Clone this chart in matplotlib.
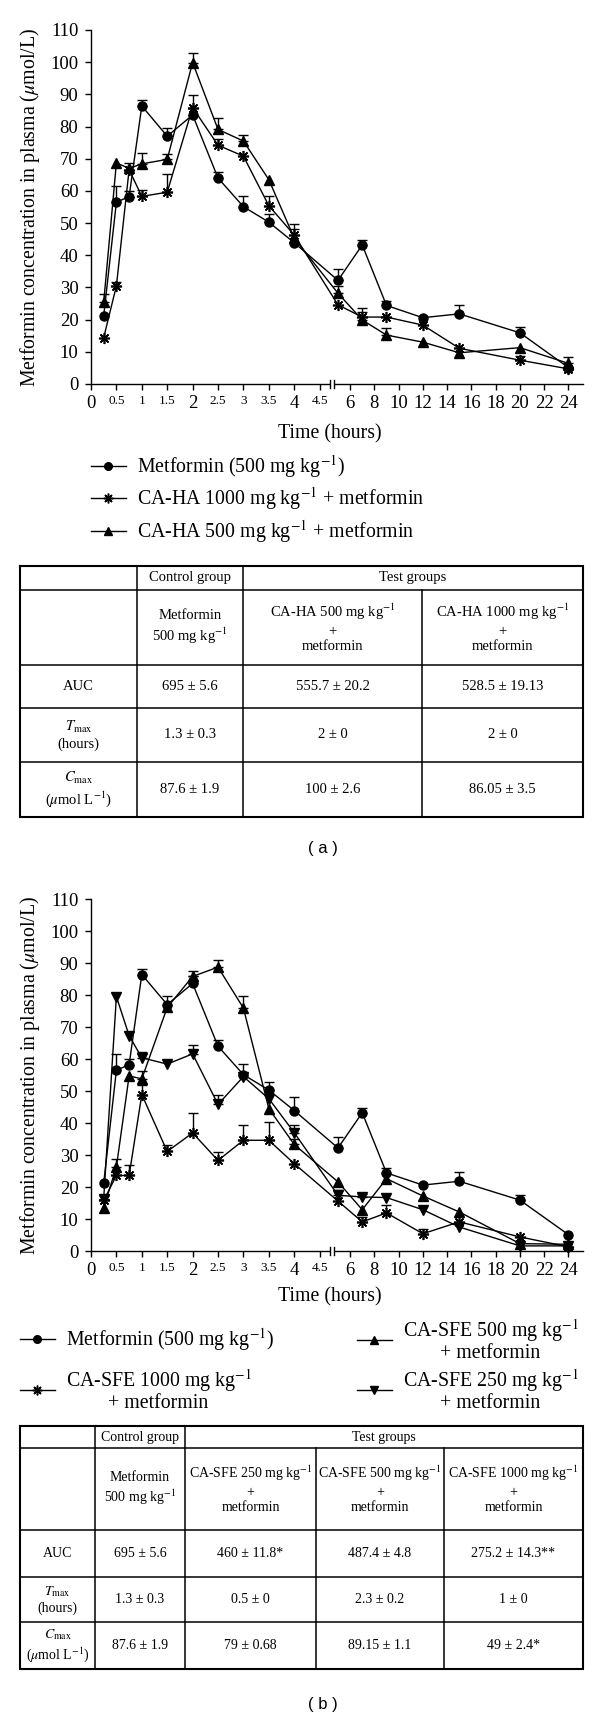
import numpy as np
import matplotlib
matplotlib.use("Agg")
import matplotlib.pyplot as plt
from matplotlib.lines import Line2D

plt.rcParams['font.family'] = ['Liberation Serif', 'DejaVu Serif']
plt.rcParams['mathtext.fontset'] = 'stix'

# ---------------- data ----------------
times = [0.25, 0.5, 0.75, 1, 1.5, 2, 2.5, 3, 3.5, 4, 5, 7, 9, 12, 15, 20, 24]

metformin = [21.2, 56.5, 58.2, 86.4, 77.0, 83.6, 64.0, 55.1, 50.3, 43.9, 32.2, 43.2, 24.4, 20.6, 21.8, 15.9, 5.1]
metformin_err = [0, 5.0, 1.8, 1.8, 2.7, 2.3, 1.8, 3.2, 2.5, 4.2, 3.5, 1.5, 1.5, 0, 2.8, 1.7, 0]

ca_ha_1000 = [14.4, 30.5, 66.6, 58.3, 59.6, 85.9, 74.2, 70.8, 55.4, 46.3, 24.6, 20.8, 20.8, 18.3, 11.1, 7.4, 4.7]
ca_ha_1000_err = [0, 1.3, 2.1, 2.1, 5.5, 3.9, 1.8, 0, 3.1, 3.4, 0, 2.7, 0, 0, 0, 1.3, 0]

ca_ha_500 = [25.4, 68.7, 67.0, 68.4, 69.8, 99.9, 79.1, 75.5, 63.5, 45.3, 28.2, 19.9, 15.2, 13.0, 9.7, 11.3, 6.4]
ca_ha_500_err = [2.5, 0, 0, 3.5, 1.7, 3.1, 3.7, 1.9, 0, 0, 2.3, 2.6, 2.3, 0, 0, 0, 1.9]

ca_sfe_1000 = [15.8, 23.6, 23.6, 48.9, 31.1, 36.9, 28.3, 34.6, 34.6, 27.3, 15.6, 9.1, 11.9, 5.4, 9.1, 4.4, 1.3]
ca_sfe_1000_err = [1.5, 0, 3.4, 2.9, 1.9, 6.2, 2.6, 4.9, 5.6, 0, 0, 1.5, 2.4, 1.6, 0, 0, 0]

ca_sfe_500 = [13.5, 26.3, 54.7, 53.8, 76.1, 85.8, 88.7, 75.9, 44.5, 33.3, 21.6, 12.9, 22.6, 17.2, 12.2, 2.3, 2.1]
ca_sfe_500_err = [0, 2.3, 0, 2.5, 0, 1.6, 2.3, 3.8, 0, 1.8, 0, 0, 0, 0, 0, 0, 0]

ca_sfe_250 = [16.4, 79.5, 67.3, 60.4, 58.4, 61.6, 45.8, 54.5, 47.6, 37.0, 17.4, 16.9, 16.7, 12.9, 7.5, 1.6, 1.6]
ca_sfe_250_err = [1.0, 0, 0, 1.7, 0, 2.9, 2.8, 0, 0, 2.3, 1.8, 1.0, 0, 0, 0, 0, 0]

x_tick_values = [0, 0.5, 1, 1.5, 2, 2.5, 3, 3.5, 4, 4.5, 6, 8, 10, 12, 14, 16, 18, 20, 22, 24]
x_tick_labels = ["0", "0.5", "1", "1.5", "2", "2.5", "3", "3.5", "4", "4.5",
                 "6", "8", "10", "12", "14", "16", "18", "20", "22", "24"]
small_tick_labels = ["0.5", "1", "1.5", "2.5", "3", "3.5", "4.5"]
y_tick_values = list(range(0, 111, 10))

legend_a_labels = ["Metformin (500 mg kg$^{-1}$)",
                   "CA-HA 1000 mg kg$^{-1}$ + metformin",
                   "CA-HA 500 mg kg$^{-1}$ + metformin"]
legend_b_labels = ["Metformin (500 mg kg$^{-1}$)",
                   "CA-SFE 1000 mg kg$^{-1}$\n+ metformin",
                   "CA-SFE 500 mg kg$^{-1}$\n+ metformin",
                   "CA-SFE 250 mg kg$^{-1}$\n+ metformin"]

table_header = ["Control group", "Test groups"]
table_row_labels = ["AUC", "$T_{\\mathrm{max}}$\n(hours)", "$C_{\\mathrm{max}}$\n($\\mu$mol L$^{-1}$)"]
table_a_groups = ["Metformin\n500 mg kg$^{-1}$",
                  "CA-HA 500 mg kg$^{-1}$\n+\nmetformin",
                  "CA-HA 1000 mg kg$^{-1}$\n+\nmetformin"]
table_a_values = [["695 ± 5.6", "555.7 ± 20.2", "528.5 ± 19.13"],
                  ["1.3 ± 0.3", "2 ± 0", "2 ± 0"],
                  ["87.6 ± 1.9", "100 ± 2.6", "86.05 ± 3.5"]]
table_b_groups = ["Metformin\n500 mg kg$^{-1}$",
                  "CA-SFE 250 mg kg$^{-1}$\n+\nmetformin",
                  "CA-SFE 500 mg kg$^{-1}$\n+\nmetformin",
                  "CA-SFE 1000 mg kg$^{-1}$\n+\nmetformin"]
table_b_values = [["695 ± 5.6", "460 ± 11.8*", "487.4 ± 4.8", "275.2 ± 14.3**"],
                  ["1.3 ± 0.3", "0.5 ± 0", "2.3 ± 0.2", "1 ± 0"],
                  ["87.6 ± 1.9", "79 ± 0.68", "89.15 ± 1.1", "49 ± 2.4*"]]

# ---------------- broken time axis scale ----------------
T_PTS = [-10.0, 0.0, 4.5, 5.0, 40.0]
P_PTS = [-20.0, 0.0, 9.0, 9.7225, 10.2 + 34 * 0.4775]


def fwd(t):
    return np.interp(np.asarray(t, dtype=float), T_PTS, P_PTS)


def inv(p):
    return np.interp(np.asarray(p, dtype=float), P_PTS, T_PTS)


W, H = 600, 1721
FS = 13.5      # tick labels
FL = 14.3      # axis labels / legends
fig = plt.figure(figsize=(W / 100, H / 100), dpi=100)


def frac_rect(left, top, right, bottom):
    return [left / W, 1 - bottom / H, (right - left) / W, (bottom - top) / H]


def plot_series(ax, y, err, marker, ms, mew=1.0):
    ax.plot(times, y, color='k', lw=1.0, marker=marker, ms=ms, mfc='k', mec='k',
            mew=mew, zorder=3, clip_on=False)
    te = [t for t, e in zip(times, err) if e > 0]
    ye = [v for v, e in zip(y, err) if e > 0]
    ee = [e for e in err if e > 0]
    ax.errorbar(te, ye, yerr=[np.zeros(len(ee)), ee], fmt='none', ecolor='k',
                elinewidth=1.0, capsize=3.8, capthick=1.0, zorder=2)


def style_axes(ax, xlabel_y):
    ax.set_xscale('function', functions=(fwd, inv))
    ax.set_xlim(0, 25.2)
    ax.set_ylim(0, 110)
    for s in ['top', 'right']:
        ax.spines[s].set_visible(False)
    for s in ['left', 'bottom']:
        ax.spines[s].set_linewidth(1.0)
    ax.set_yticks(y_tick_values)
    ax.set_yticklabels([str(v) for v in y_tick_values], fontsize=FS)
    ax.set_xticks(x_tick_values)
    ax.set_xticklabels(x_tick_labels)
    ax.minorticks_off()
    for lbl, txt in zip(ax.get_xticklabels(), x_tick_labels):
        lbl.set_fontsize(9.5 if txt in small_tick_labels else FS)
    ax.tick_params(axis='y', direction='out', length=4, width=1, pad=5)
    ax.tick_params(axis='x', direction='out', length=4, width=1, pad=4)
    ax.set_ylabel("Metformin concentration in plasma ($\\mu$mol/L)", fontsize=FL)
    ax.yaxis.set_label_coords(-0.10, 0.5)
    ax.set_xlabel("Time (hours)", fontsize=FL)
    ax.xaxis.set_label_coords((330 - 91) / 492, xlabel_y)
    # axis break mark
    tb = inv([9.42, 9.56])
    ax.plot(tb, [0, 0], color='white', lw=2.5, transform=ax.get_xaxis_transform(),
            clip_on=False, zorder=5, solid_capstyle='butt')
    for tx in tb:
        ax.plot([tx, tx], [-0.011, 0.011], color='k', lw=1.0,
                transform=ax.get_xaxis_transform(), clip_on=False, zorder=6)


# ---------------- chart (a) ----------------
ax1 = fig.add_axes(frac_rect(91, 30, 583, 384))
style_axes(ax1, -0.115)
plot_series(ax1, metformin, metformin_err, 'o', 6.5)
plot_series(ax1, ca_ha_1000, ca_ha_1000_err, (8, 2, 0), 8, 1.2)
plot_series(ax1, ca_ha_500, ca_ha_500_err, '^', 6.5)

h_circle = Line2D([], [], color='k', lw=1.0, marker='o', ms=5.5)
h_star = Line2D([], [], color='k', lw=1.0, marker=(8, 2, 0), ms=7, mew=1.1)
h_up = Line2D([], [], color='k', lw=1.0, marker='^', ms=5.5)
h_down = Line2D([], [], color='k', lw=1.0, marker='v', ms=5.5)

leg_a = fig.legend([h_circle, h_star, h_up], legend_a_labels, loc='center left',
                   bbox_to_anchor=(91 / W, 1 - 499 / H), frameon=False, fontsize=FL,
                   handlelength=1.75, handletextpad=0.55, borderpad=0, borderaxespad=0,
                   labelspacing=0.28)

# ---------------- chart (b) ----------------
ax2 = fig.add_axes(frac_rect(91, 899, 583, 1251))
style_axes(ax2, -0.103)
plot_series(ax2, metformin, metformin_err, 'o', 6.5)
plot_series(ax2, ca_sfe_500, ca_sfe_500_err, '^', 6.5)
plot_series(ax2, ca_sfe_1000, ca_sfe_1000_err, (8, 2, 0), 8, 1.2)
plot_series(ax2, ca_sfe_250, ca_sfe_250_err, 'v', 6.5)

leg_b_specs = [(h_circle, legend_b_labels[0], 20, 1340),
               (h_star, legend_b_labels[1], 20, 1390),
               (h_up, legend_b_labels[2], 357, 1340),
               (h_down, legend_b_labels[3], 357, 1390)]
for h, lab, lx, ly in leg_b_specs:
    lg = fig.legend([h], [lab], loc='center left', bbox_to_anchor=(lx / W, 1 - ly / H),
                    frameon=False, fontsize=FL, handlelength=1.75, handletextpad=0.55,
                    borderpad=0, borderaxespad=0)
    for t in lg.get_texts():
        t.set_multialignment('center')
        t.set_linespacing(1.05)

# ---------------- tables ----------------
ov = fig.add_axes([0, 0, 1, 1])
ov.set_xlim(0, W)
ov.set_ylim(H, 0)
ov.axis('off')


def draw_table(cols, rows, groups, values, fs):
    x0, x1 = cols[0], cols[-1]
    y0, y1 = rows[0], rows[-1]
    ov.plot([x0, x1, x1, x0, x0], [y0, y0, y1, y1, y0], color='k', lw=1.5,
            solid_joinstyle='miter')
    for y in rows[1:-1]:
        ov.plot([x0, x1], [y, y], color='k', lw=1.1)
    for x in cols[1:3]:
        ov.plot([x, x], [y0, y1], color='k', lw=1.1)
    for x in cols[3:-1]:
        ov.plot([x, x], [rows[1], y1], color='k', lw=1.1)
    yc = (rows[0] + rows[1]) / 2
    ov.text((cols[1] + cols[2]) / 2, yc, table_header[0], ha='center', va='center', fontsize=fs)
    ov.text((cols[2] + cols[-1]) / 2, yc, table_header[1], ha='center', va='center', fontsize=fs)
    yc = (rows[1] + rows[2]) / 2
    for i, g in enumerate(groups):
        ov.text((cols[i + 1] + cols[i + 2]) / 2, yc, g, ha='center', va='center',
                fontsize=fs, multialignment='center', linespacing=1.25)
    for r, lab in enumerate(table_row_labels):
        yc = (rows[r + 2] + rows[r + 3]) / 2
        ov.text((cols[0] + cols[1]) / 2, yc, lab, ha='center', va='center',
                fontsize=fs, multialignment='center', linespacing=1.25)
        for c, v in enumerate(values[r]):
            ov.text((cols[c + 1] + cols[c + 2]) / 2, yc, v, ha='center', va='center', fontsize=fs)


draw_table([20, 137, 243, 422, 583], [566, 590, 665, 708, 762, 817],
           table_a_groups, table_a_values, 10.5)
draw_table([20, 95, 185, 316, 444, 583], [1426, 1448, 1530, 1577, 1622, 1669],
           table_b_groups, table_b_values, 10)

ov.text(323, 848, "( a )", ha='center', va='center', fontsize=12,
        family=['Liberation Sans', 'DejaVu Sans'])
ov.text(323, 1705, "( b )", ha='center', va='center', fontsize=12,
        family=['Liberation Sans', 'DejaVu Sans'])

fig.savefig("out.png", dpi=100)
